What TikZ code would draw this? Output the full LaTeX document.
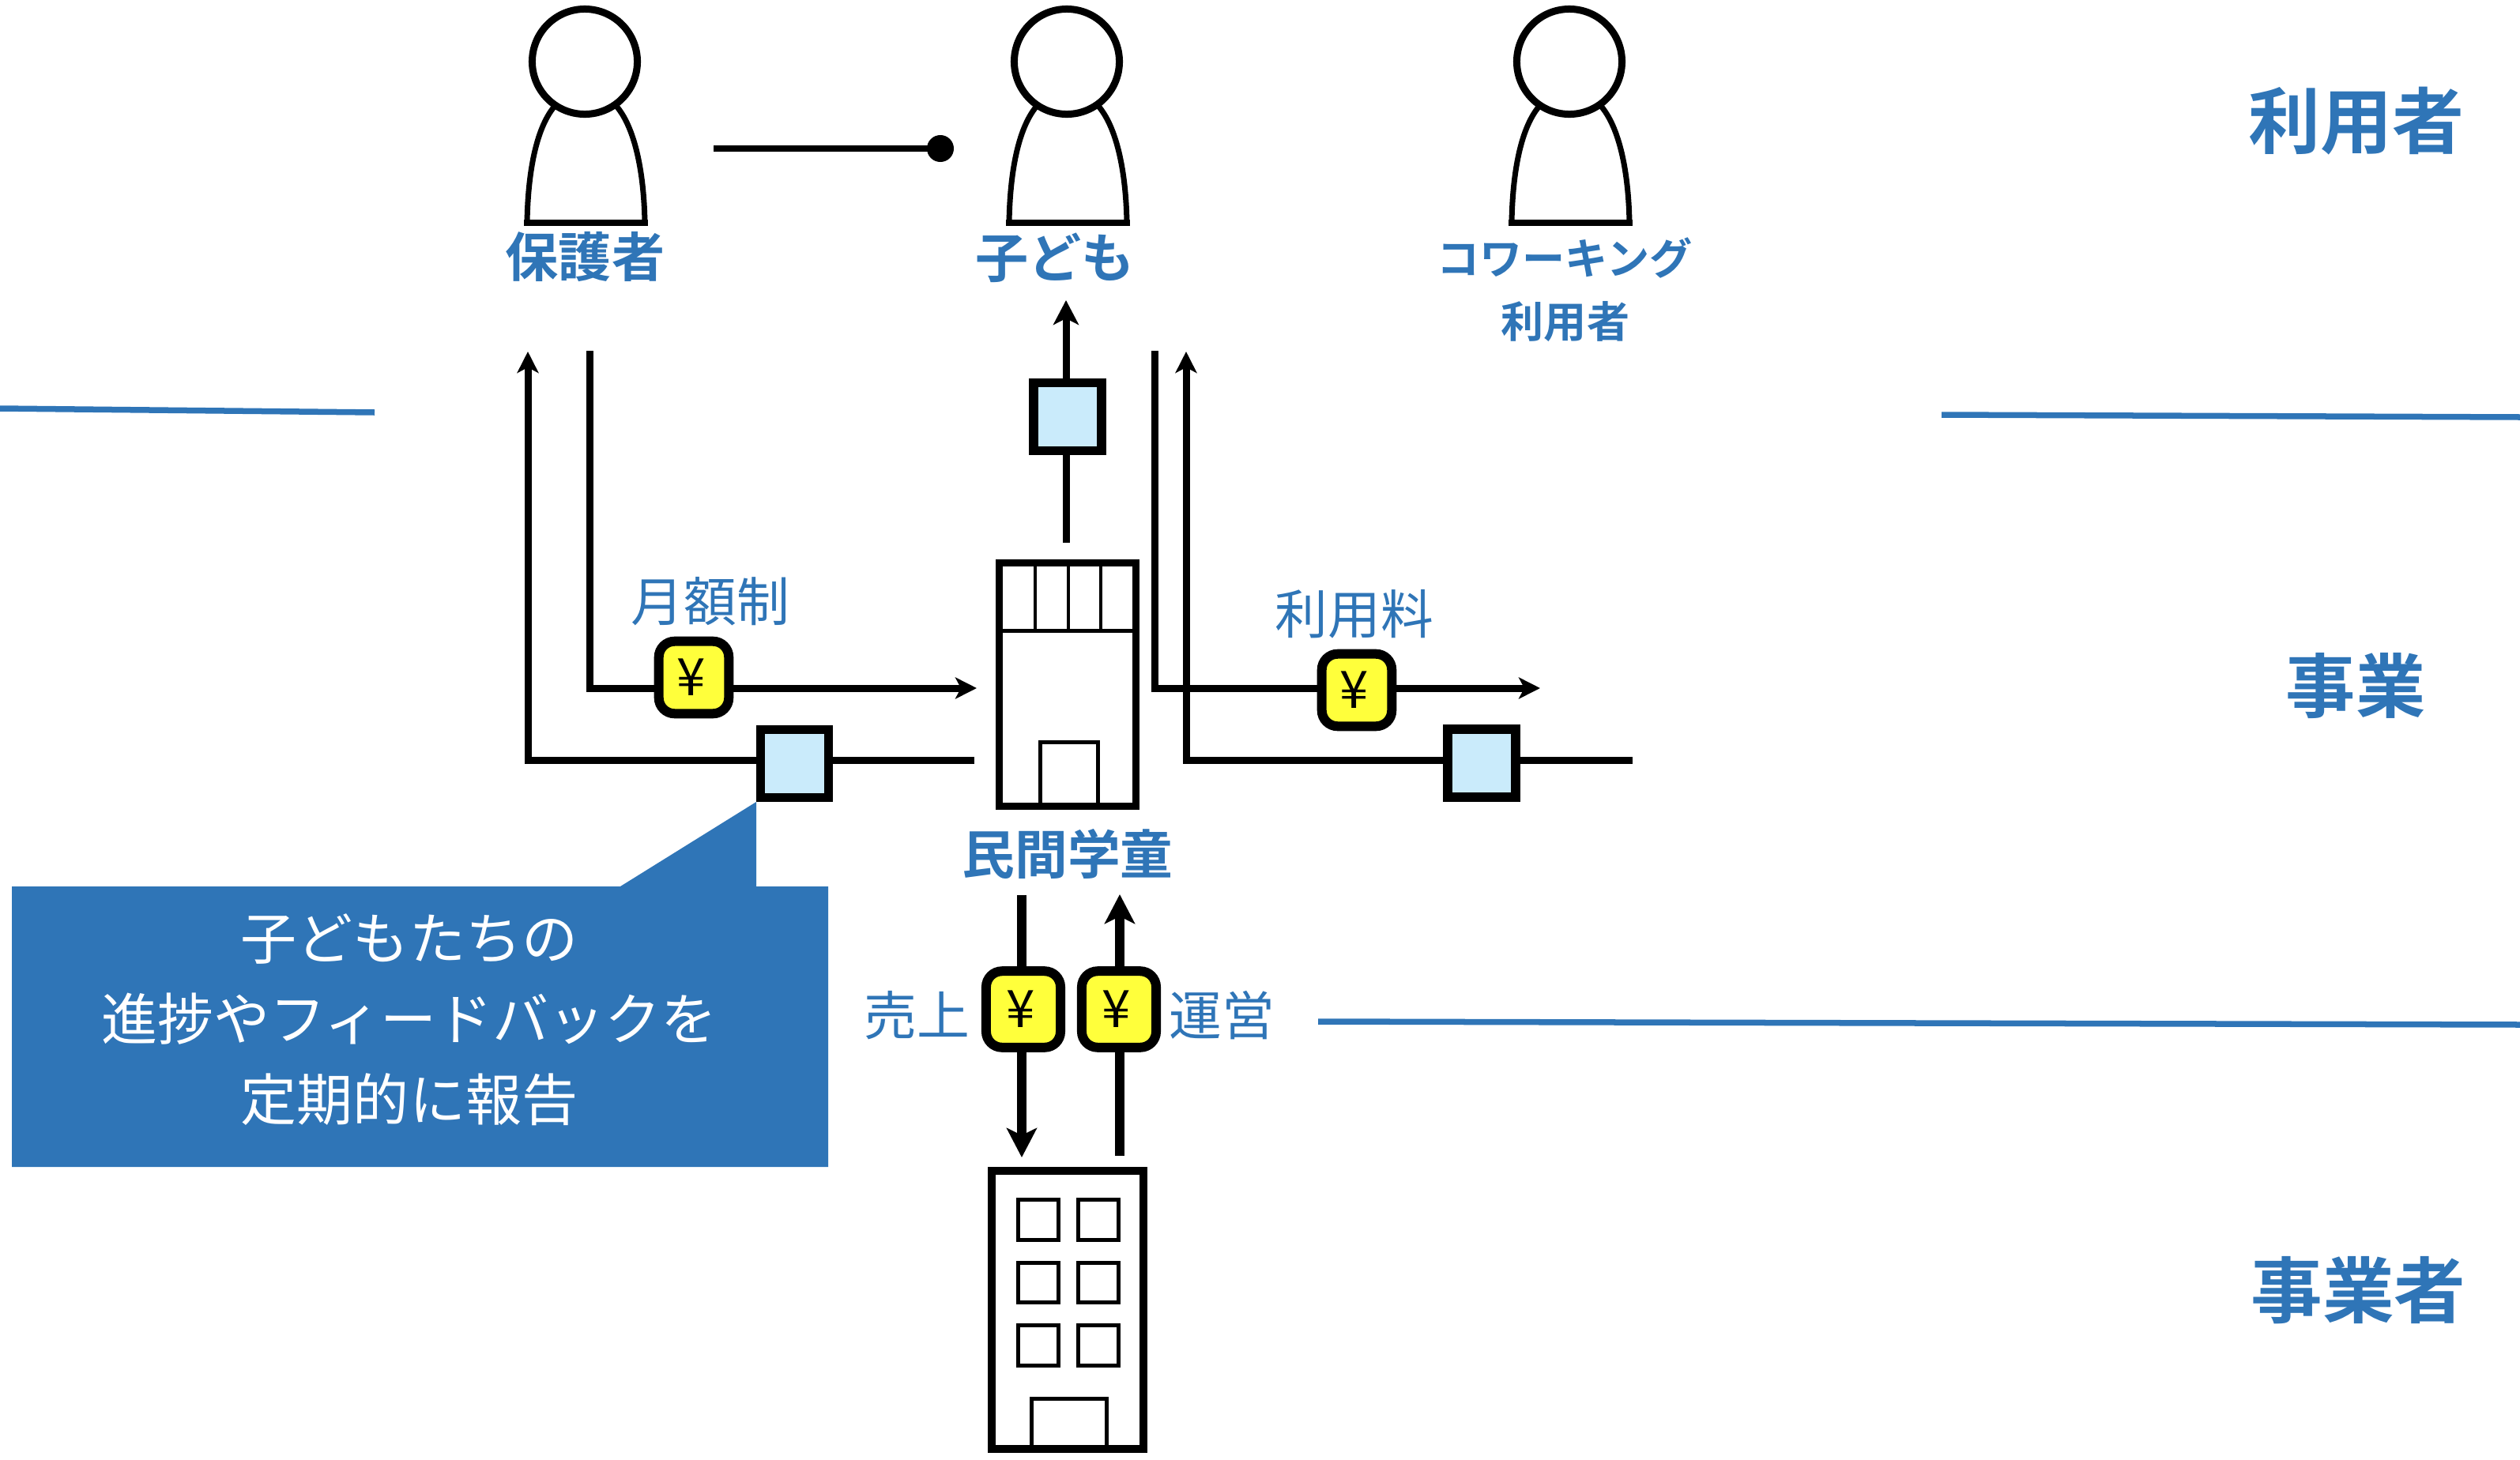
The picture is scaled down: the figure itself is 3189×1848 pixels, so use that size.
\documentclass[tikz,border=0pt]{standalone}
\usepackage{fontspec}
\setmainfont{Noto Sans CJK JP}
\newfontfamily\jpb{Noto Sans CJK JP Bold}
\usetikzlibrary{arrows.meta}
\definecolor{bl}{HTML}{2F75B7}
\definecolor{pay}{HTML}{FFFF3B}
\definecolor{doc}{HTML}{CAEBFB}
\tikzset{
 x=0.01cm,y=-0.01cm,
 arr/.style={draw=black,line width=0.09cm,-{Stealth[length=0.27cm,width=0.27cm,inset=0.07cm]}},
 midarr/.style={draw=black,line width=0.09cm,-{Stealth[length=0.31cm,width=0.32cm,inset=0.08cm]}},
 tarr/.style={draw=black,line width=0.125cm,-{Stealth[length=0.37cm,width=0.38cm,inset=0.09cm]}},
 yenbase/.style={draw=black,line width=0.12cm,fill=pay,rounded corners=0.2cm,inner sep=0pt,font=\fontsize{18.6}{19}\selectfont},
 yensmall/.style={yenbase,minimum width=0.885cm,minimum height=0.915cm},
 yenbig/.style={yenbase,minimum width=0.94cm,minimum height=0.965cm},
 docbox/.style={draw=black,line width=0.115cm,fill=doc,minimum width=0.855cm,minimum height=0.855cm,inner sep=0pt},
 divider/.style={draw=bl,line width=0.075cm},
 lbl/.style={text=bl,inner sep=0pt},
 callout/.style={text=white,inner sep=0pt,font=\fontsize{20.2}{21}\selectfont},
}
\newcommand{\yen}{\kern-0.06cm ¥}
\newcommand{\person}[2]{%
 \draw[line width=0.07cm,fill=white] (#1-73,282) .. controls (#1-72,220) and (#1-62,160) .. (#1-36,132) -- (#1+38,132) .. controls (#1+64,160) and (#1+75,220) .. (#1+76,282);
 \draw[line width=0.085cm] (#1-77,282) -- (#1+79.5,282);
 \node[draw=black,line width=0.09cm,fill=white,circle,minimum size=1.33cm,inner sep=0pt] (#2) at (#1,78) {};
}
\begin{document}
\begin{tikzpicture}
\useasboundingbox (0,0) rectangle (3189,1848);
% dividers
\coordinate (d1a) at (0,517); \coordinate (d1b) at (474,522);
\coordinate (d2a) at (2457,525); \coordinate (d2b) at (3189,528);
\coordinate (d3a) at (1668,1293); \coordinate (d3b) at (3189,1297);
\draw[divider] (d1a) -- (d1b);
\draw[divider] (d2a) -- (d2b);
\draw[divider] (d3a) -- (d3b);
% people
\person{740}{p1}
\person{1350}{p2}
\person{1986}{p3}
\coordinate (la) at (903,188); \coordinate (lb) at (1190,188);
\draw[line width=0.075cm] (la) -- (lb);
\node[fill=black,circle,minimum size=0.34cm,inner sep=0pt] (dot) at (lb) {};
% labels
\node[lbl,font=\jpb\fontsize{19.1}{20}\selectfont] (tp1) at (740.5,325.5) {保護者};
\node[lbl,font=\jpb\fontsize{19.1}{20}\selectfont] (tp2) at (1335,326) {子ども};
\node[lbl,font=\jpb\fontsize{15.4}{16}\selectfont] (tp3) at (1980,327) {コワーキング};
\node[lbl,font=\jpb\fontsize{15.4}{16}\selectfont] (tp3b) at (1981,407) {利用者};
\node[lbl,font=\jpb\fontsize{25.9}{27}\selectfont] (h1) at (2982,153) {利用者};
\node[lbl,font=\jpb\fontsize{25.1}{26}\selectfont] (h2) at (2981,868) {事業};
\node[lbl,font=\jpb\fontsize{25.8}{27}\selectfont] (h3) at (2984.5,1633) {事業者};
\node[lbl,font=\jpb\fontsize{19}{20}\selectfont] (tg) at (1351,1081) {民間学童};
\node[lbl,font=\fontsize{19}{20}\selectfont] (t1) at (899,761) {月額制};
\node[lbl,font=\fontsize{19}{20}\selectfont] (t2) at (1714,777) {利用料};
\node[lbl,font=\fontsize{19}{20}\selectfont] (t3) at (1160,1285) {売上};
\node[lbl,font=\fontsize{19}{20}\selectfont] (t4) at (1546,1285) {運営};
% gakudo building
\draw[line width=0.09cm,fill=white] (1264.5,712.5) rectangle (1437.5,1020.5);
\draw[line width=0.05cm] (1264,798) -- (1438,798);
\draw[line width=0.045cm] (1310,712) -- (1310,798) (1352,712) -- (1352,798) (1393,712) -- (1393,798);
\draw[line width=0.05cm] (1316,1021) -- (1316,939) -- (1389,939) -- (1389,1021);
% company building
\draw[line width=0.105cm,fill=white] (1255,1482) rectangle (1447,1834);
\foreach \xa in {1286,1362}{\foreach \ya in {1516,1595.5,1675}{
 \draw[line width=0.05cm] (\xa+2.5,\ya+2.5) rectangle (\xa+53.5,\ya+53);}}
\draw[line width=0.05cm] (1305.5,1834) -- (1305.5,1770.5) -- (1400.5,1770.5) -- (1400.5,1834);
% callout
\fill[bl] (15,1122) -- (785,1122) -- (957,1015) -- (957,1122) -- (1048,1122) -- (1048,1477) -- (15,1477) -- cycle;
\node[callout] (c1) at (518,1188) {子どもたちの};
\node[callout] (c2) at (518,1290) {進捗やフィードバックを};
\node[callout] (c3) at (518,1392) {定期的に報告};
% coordinates of line ends
\coordinate (u1) at (668,445); \coordinate (u1c) at (668,962); \coordinate (u1e) at (1233,962);
\coordinate (v1) at (746,444); \coordinate (v1c) at (746,871); \coordinate (v1e) at (1236,871);
\coordinate (v2) at (1461,444); \coordinate (v2c) at (1461,871); \coordinate (v2e) at (1949,871);
\coordinate (u2) at (1501,445); \coordinate (u2c) at (1501,962); \coordinate (u2e) at (2066,962);
\coordinate (ta) at (1349,687); \coordinate (tb) at (1349,380);
\coordinate (sa) at (1293,1133); \coordinate (sb) at (1293,1465);
\coordinate (oa) at (1417,1463); \coordinate (ob) at (1417,1132);
% connectors
\draw[arr] (u1e) -- (u1c) -- (u1);
\draw[arr] (v1) -- (v1c) -- (v1e);
\draw[arr] (v2) -- (v2c) -- (v2e);
\draw[arr] (u2e) -- (u2c) -- (u2);
\draw[midarr] (ta) -- (tb);
\draw[tarr] (sa) -- (sb);
\draw[tarr] (oa) -- (ob);
% boxes
\node[docbox] (b1) at (1005.5,966.5) {};
\node[docbox] (b2) at (1351,527.5) {};
\node[docbox] (b3) at (1875,966) {};
\node[yensmall] (y1) at (878,857.5) {\yen};
\node[yensmall] (y2) at (1717,873.5) {\yen};
\node[yenbig] (y3) at (1295,1277.5) {\yen};
\node[yenbig] (y4) at (1416,1277.5) {\yen};
\end{tikzpicture}
\end{document}
